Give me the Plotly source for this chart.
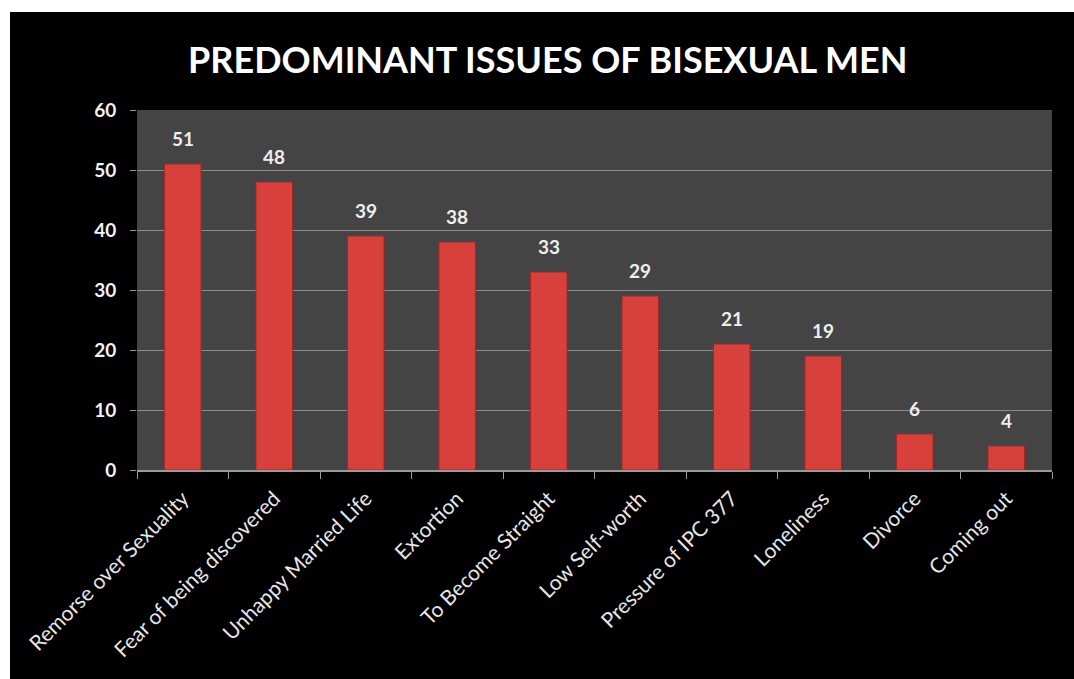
import plotly.graph_objects as go

categories = ["Remorse over Sexuality", "Fear of being discovered", "Unhappy Married Life",
              "Extortion", "To Become Straight", "Low Self-worth", "Pressure of IPC 377",
              "Loneliness", "Divorce", "Coming out"]
values = [51, 48, 39, 38, 33, 29, 21, 19, 6, 4]
y_ticks = [0, 10, 20, 30, 40, 50, 60]

W, H = 1074, 679
ml, mr, mt, mb = 137, 22, 110, 209
pw, ph = W - ml - mr, H - mt - mb

def px_x(x):
    return (x - ml) / pw

def px_y(y):
    return (H - mb - y) / ph

FONT = "Lato, Open Sans, sans-serif"

fig = go.Figure()
fig.add_trace(go.Bar(
    x=categories, y=values,
    marker=dict(color="#d7403b", line=dict(color="#a82420", width=1)),
    width=0.4,
))

annotations = [
    dict(x=c, y=v, xref="x", yref="y", text=f"<b>{v}</b>", showarrow=False,
         yanchor="bottom", yshift=12,
         font=dict(family=FONT, size=19, color="#eeeeee"))
    for c, v in zip(categories, values)
]

fig.update_layout(
    width=W, height=H,
    margin=dict(l=ml, r=mr, t=mt, b=mb),
    paper_bgcolor="black",
    plot_bgcolor="#444444",
    showlegend=False,
    bargap=0.6,
    title=dict(text="<b>PREDOMINANT ISSUES OF BISEXUAL MEN</b>",
               x=0.51, xanchor="center", y=1 - 60 / H, yanchor="middle",
               font=dict(family=FONT, size=36, color="white")),
    font=dict(family=FONT, color="white"),
    annotations=annotations,
    xaxis=dict(
        tickangle=-45, tickfont=dict(size=21, color="#e6e6e6"),
        showline=True, linecolor="#9a9a9a", linewidth=2,
        ticks="outside", tickson="boundaries", ticklen=7, tickcolor="#9a9a9a",
        ticklabelstandoff=6,
        showgrid=False,
    ),
    yaxis=dict(
        range=[0, 60], tickvals=y_ticks,
        ticktext=[f"<b>{t}</b>" for t in y_ticks],
        tickfont=dict(size=19, color="#f2f2f2"),
        showgrid=True, gridcolor="#8c8c8c", gridwidth=1,
        ticks="outside", ticklen=6, tickcolor="#9a9a9a",
        ticklabelstandoff=10,
        zeroline=False,
    ),
    shapes=[
        dict(type="rect", xref="paper", yref="paper",
             x0=px_x(-5), x1=px_x(W + 5), y0=px_y(12), y1=px_y(-5),
             fillcolor="white", line=dict(width=0), layer="above"),
        dict(type="rect", xref="paper", yref="paper",
             x0=px_x(-5), x1=px_x(10), y0=px_y(H + 5), y1=px_y(-5),
             fillcolor="white", line=dict(width=0), layer="above"),
    ],
)

fig.write_html("out.html", config={"displayModeBar": False},
               post_script="document.body.style.margin='0';document.body.style.overflow='hidden';")
